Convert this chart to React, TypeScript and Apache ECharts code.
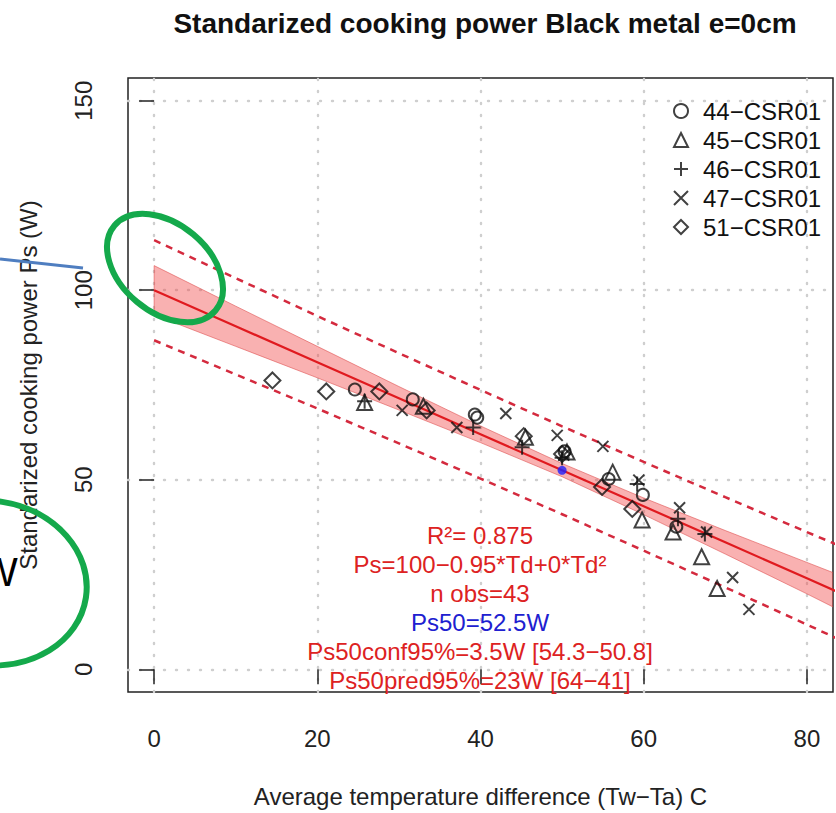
import React, { useEffect, useRef } from "react";
import * as echarts from "echarts";

const FONT = "'Liberation Sans', Arial, Helvetica, sans-serif";

const TITLE = "Standarized cooking power Black metal e=0cm";
const X_NAME = "Average temperature difference (Tw\u2212Ta) C";
const Y_NAME = "Standarized cooking power Ps (W)";

const xTicks = [0, 20, 40, 60, 80];
const yTicks = [0, 50, 100, 150];

// regression curve and bands
const fitX = [0, 10, 20, 30, 40, 50, 60, 70, 80, 85];
const fitY = [100, 90.5, 81, 71.5, 62, 52.5, 43, 33.5, 24, 19.25];
const confLow = [93.5, 85.2, 76.9, 68.4, 59.8, 50.8, 40.8, 30.4, 19.9, 14.5];
const confHigh = [106.5, 95.8, 85.2, 74.6, 64.2, 54.3, 45.2, 36.6, 28.2, 24.0];
const predLow = [86.8, 77.8, 68.8, 59.6, 50.3, 40.9, 31.3, 21.6, 11.8, 6.8];
const predHigh = [113.2, 103.2, 93.2, 83.4, 73.7, 64.1, 54.7, 45.4, 36.2, 31.7];

// observations
const s44 = [[24.6, 73.8], [31.7, 71.2], [39.3, 67.2], [39.6, 66.4], [50.3, 57.5], [55.7, 50.2], [59.9, 46.0], [64.0, 37.6]];
const s45 = [[25.8, 70.4], [33.0, 69.4], [45.5, 61.2], [50.6, 57.3], [56.2, 52.0], [59.8, 39.4], [63.6, 36.2], [67.1, 29.7], [69.0, 21.3]];
const s46 = [[25.8, 70.7], [39.1, 63.8], [45.1, 58.6], [50.0, 55.8], [59.2, 48.9], [64.2, 39.7], [67.5, 35.7]];
const s47 = [[30.4, 68.3], [37.1, 63.8], [43.1, 67.5], [49.4, 61.7], [50.2, 56.5], [55.0, 58.8], [59.4, 49.9], [64.4, 42.6], [67.7, 36.2], [70.9, 24.2], [72.9, 15.8]];
const s51 = [[14.5, 76.2], [21.1, 73.3], [27.6, 73.3], [33.4, 68.3], [45.3, 61.5], [50.0, 56.8], [54.9, 48.1], [58.6, 42.3]];
const ps50 = [[50, 52.5]];

const seriesNames = ["44\u2212CSR01", "45\u2212CSR01", "46\u2212CSR01", "47\u2212CSR01", "51\u2212CSR01"];

const annotLines = [
  "R\u00b2= 0.875",
  "Ps=100\u22120.95*Td+0*Td\u00b2",
  "n obs=43",
  "Ps50=52.5W",
  "Ps50conf95%=3.5W [54.3\u221250.8]",
  "Ps50pred95%=23W [64\u221241]",
];
const annotColors = ["#dd2222", "#dd2222", "#dd2222", "#2020d0", "#dd2222", "#dd2222"];

const PLUS = "path://M5,0L5,10M0,5L10,5";
const CROSS = "path://M0,0L10,10M10,0L0,10";

export default function App() {
  const ref = useRef<HTMLDivElement>(null);
  useEffect(() => {
    if (!ref.current) return;
    const chart = echarts.init(ref.current, undefined, { renderer: "svg" });
    const zip = (xs: number[], ys: number[]) => xs.map((x, i) => [x, ys[i]]);
    const markStyle = {
      color: "rgba(0,0,0,0)",
      borderColor: "#111",
      borderWidth: 2,
    };
    const scatter = (name: string, data: number[][], symbol: string, size: number) => ({
      name,
      type: "scatter",
      data,
      symbol,
      symbolSize: size,
      itemStyle: markStyle,
      z: 6,
    });
    const option: any = {
      animation: false,
      textStyle: { fontFamily: FONT },
      title: {
        text: TITLE,
        left: 480,
        textAlign: "center",
        top: 4,
        textStyle: { fontSize: 28, fontWeight: "bold", color: "#111", fontFamily: FONT },
      },
      grid: {
        left: 128,
        right: 3,
        top: 78,
        bottom: 116,
        show: true,
        borderColor: "#222",
        borderWidth: 1.5,
        backgroundColor: "transparent",
      },
      legend: {
        orient: "vertical",
        left: 668,
        top: 92,
        itemWidth: 14,
        itemHeight: 14,
        itemGap: 1,
        data: seriesNames,
        textStyle: { fontSize: 24, lineHeight: 28, color: "#111", padding: [0, 0, 0, 10], fontFamily: FONT },
      },
      xAxis: {
        type: "value",
        min: -3.2,
        max: 83.2,
        axisLine: { show: false },
        splitLine: { show: false },
        axisTick: { show: true, customValues: xTicks, length: 15, lineStyle: { color: "#222", width: 1.5 } },
        axisLabel: { customValues: xTicks, fontSize: 24, color: "#222", margin: 34, fontFamily: FONT },
        name: X_NAME,
        nameLocation: "middle",
        nameGap: 92,
        nameTextStyle: { fontSize: 24, color: "#222", fontFamily: FONT },
      },
      yAxis: {
        type: "value",
        min: -6,
        max: 156,
        axisLine: { show: false },
        splitLine: { show: false },
        axisTick: { show: true, customValues: yTicks, length: 15, lineStyle: { color: "#222", width: 1.5 } },
        axisLabel: { customValues: yTicks, fontSize: 24, color: "#222", margin: 33, rotate: 90, fontFamily: FONT },
        name: Y_NAME,
        nameLocation: "middle",
        nameRotate: 90,
        nameGap: 88,
        nameTextStyle: { fontSize: 24, color: "#222", fontFamily: FONT },
      },
      series: [
        {
          name: "grid",
          type: "line",
          data: [],
          silent: true,
          z: 0,
          markLine: {
            z: 0,
            silent: true,
            symbol: "none",
            label: { show: false },
            lineStyle: { color: "#cfcfcf", width: 2.4, type: [1, 11], cap: "round" },
            data: [...xTicks.map((v) => ({ xAxis: v })), ...yTicks.map((v) => ({ yAxis: v }))],
          },
        },
        {
          name: "conf95",
          type: "custom",
          clip: true,
          silent: true,
          z: 1,
          data: fitX.map((x, i) => [x, confLow[i], confHigh[i]]),
          renderItem: (params: any, api: any) => {
            if (params.dataIndex !== 0) return null;
            const up = fitX.map((x, i) => api.coord([x, confHigh[i]]));
            const lo = fitX.map((x, i) => api.coord([x, confLow[i]])).reverse();
            return {
              type: "polygon",
              shape: { points: [...up, ...lo] },
              style: { fill: "rgba(240,70,70,0.42)", stroke: "rgba(220,70,70,0.55)", lineWidth: 1 },
            };
          },
        },
        {
          name: "fit",
          type: "line",
          data: zip(fitX, fitY),
          symbol: "none",
          silent: true,
          z: 2,
          lineStyle: { color: "#e01a1f", width: 2.2 },
        },
        {
          name: "predLow",
          type: "line",
          data: zip(fitX, predLow),
          symbol: "none",
          silent: true,
          z: 2,
          lineStyle: { color: "#d42a3e", width: 2.5, type: [7, 6] },
        },
        {
          name: "predHigh",
          type: "line",
          data: zip(fitX, predHigh),
          symbol: "none",
          silent: true,
          z: 2,
          lineStyle: { color: "#d42a3e", width: 2.5, type: [7, 6] },
        },
        scatter(seriesNames[0], s44, "circle", 12),
        scatter(seriesNames[1], s45, "triangle", 15),
        scatter(seriesNames[2], s46, PLUS, 15),
        scatter(seriesNames[3], s47, CROSS, 11),
        scatter(seriesNames[4], s51, "diamond", 16),
        {
          name: "Ps50",
          type: "scatter",
          data: ps50,
          symbol: "circle",
          symbolSize: 9,
          itemStyle: { color: "#1f1fff" },
          z: 7,
        },
      ],
      graphic: [
        ...annotLines.map((t, i) => ({
          type: "text",
          x: 480,
          y: 535 + i * 29,
          z: 50,
          style: {
            text: t,
            fill: annotColors[i],
            font: `24px ${FONT}`,
            textAlign: "center",
            textVerticalAlign: "middle",
          },
        })),
        {
          type: "line",
          z: 100,
          shape: { x1: 0, y1: 259, x2: 83, y2: 268 },
          style: { stroke: "#4f7ec0", lineWidth: 3 },
        },
        {
          type: "ellipse",
          x: 165,
          y: 268,
          rotation: -0.7,
          z: 100,
          shape: { cx: 0, cy: 0, rx: 66, ry: 44 },
          style: { fill: "none", stroke: "#14a94b", lineWidth: 6 },
        },
        {
          type: "ellipse",
          x: -10,
          y: 583,
          rotation: -0.15,
          z: 100,
          shape: { cx: 0, cy: 0, rx: 97, ry: 82 },
          style: { fill: "none", stroke: "#14a94b", lineWidth: 6 },
        },
        {
          type: "text",
          x: -20,
          y: 592,
          z: 100,
          style: { text: "W", fill: "#000", font: `40px ${FONT}`, textAlign: "left", textVerticalAlign: "bottom" },
        },
      ],
    };
    chart.setOption(option);
    return () => chart.dispose();
  }, []);
  return <div ref={ref} style={{ width: 836, height: 813, position: "absolute", left: 0, top: 0 }} />;
}
